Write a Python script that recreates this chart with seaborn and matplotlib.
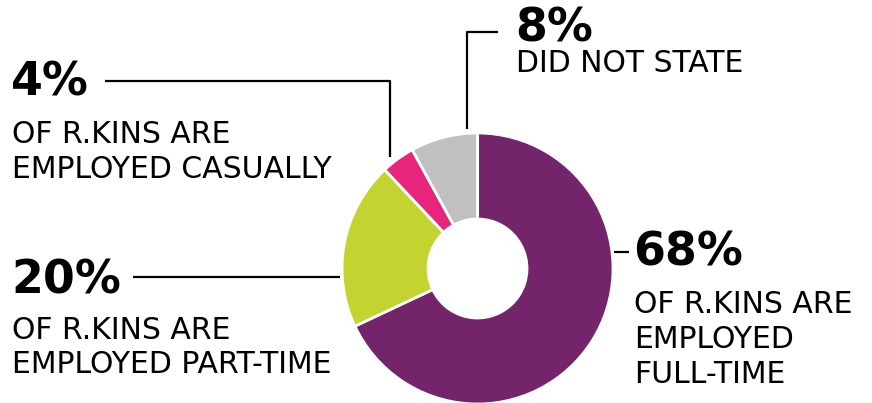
import matplotlib.pyplot as plt
import seaborn as sns

# employment breakdown, clockwise from 12 o'clock
labels = ['Full-time', 'Part-time', 'Casual', 'Did not state']
shares = [68, 20, 4, 8]
colors = ['#73246B', '#C3D330', '#E7267B', '#C0C0C0']

pct_text = ['68%', '20%', '4%', '8%']
sub_text = ['OF R.KINS ARE\nEMPLOYED\nFULL-TIME',
            'OF R.KINS ARE\nEMPLOYED PART-TIME',
            'OF R.KINS ARE\nEMPLOYED CASUALLY',
            'DID NOT STATE']

W, H = 872, 403

sns.set_theme(style='white')
plt.rcParams['font.family'] = ['DejaVu Sans']

fig = plt.figure(figsize=(W / 100, H / 100), dpi=100)
ax = fig.add_axes([0, 0, 1, 1])


def px(x, y):
    # picture pixels (top-left origin) -> data coords
    return x, H - y


cx, cy = px(477.5, 268.5)
ax.pie(shares, colors=colors, startangle=90, counterclock=False,
       radius=135.5, center=(cx, cy),
       wedgeprops=dict(width=86, edgecolor='white', linewidth=2))

ax.set_xlim(0, W)
ax.set_ylim(0, H)
ax.set_aspect('equal')
ax.axis('off')

# leader lines
leaders = [
    [(614, 252), (629, 252)],
    [(133, 277), (340, 277)],
    [(105, 81), (390, 81), (390, 157)],
    [(498, 32), (467, 32), (467, 129)],
]
for pts in leaders:
    xs, ys = zip(*[px(x, y) for x, y in pts])
    ax.plot(xs, ys, color='black', lw=1.6, solid_capstyle='butt')

# text blocks: x, baseline of the percentage, baselines of the sub lines
blocks = [
    (633, 266, [313, 348, 383]),
    (11, 293, [339, 373]),
    (11, 96, [143, 178]),
    (515, 41, [72]),
]
for (x, yb, sub_ys), pct, sub in zip(blocks, pct_text, sub_text):
    ax.text(*px(x, yb), pct, fontsize=33, fontweight='bold',
            color='black', va='baseline', ha='left')
    for line, ys in zip(sub.split('\n'), sub_ys):
        ax.text(*px(x + 1, ys), line, fontsize=21.5, color='black',
                va='baseline', ha='left')

fig.savefig('out.png', dpi=100, facecolor='white')
